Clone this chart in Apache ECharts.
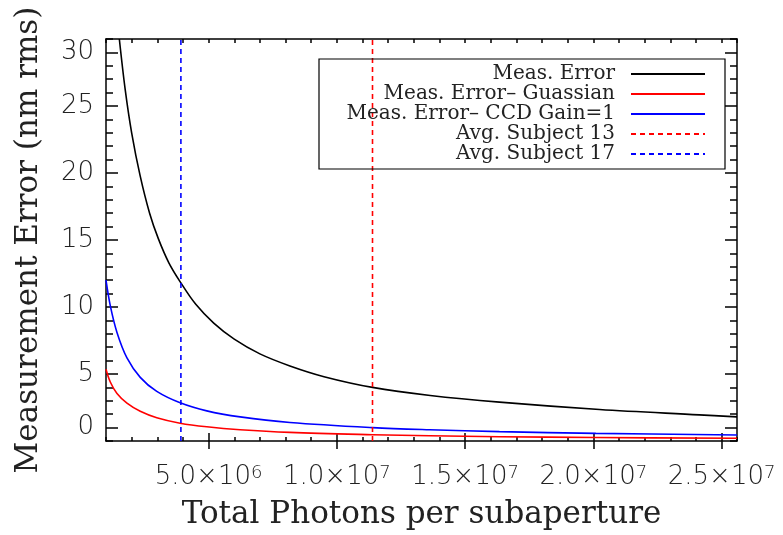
<!DOCTYPE html>
<html>
<head>
<meta charset="utf-8">
<script src="https://cdn.jsdelivr.net/npm/echarts@6/dist/echarts.min.js"></script>
<style>
  html, body { margin: 0; padding: 0; background: #fff; }
  #chart { width: 783px; height: 535px; }
</style>
</head>
<body>
<div id="chart"></div>
<script>
// Total measurement error vs. photon count
const photonsMeas = [1.52e6, 1.75e6, 2.0e6, 2.33e6, 2.7e6, 3.04e6, 3.45e6, 3.92e6, 4.5e6, 5.2e6,
                     6.0e6, 7.0e6, 8.17e6, 9.5e6, 1.139e7, 1.364e7, 1.634e7, 2.024e7, 2.413e7, 2.56e7];
const errMeas = [30, 26.2, 23.0, 19.8, 17.0, 15.1, 13.3, 11.8, 10.2, 8.8,
                 7.6, 6.5, 5.6, 4.8, 4.0, 3.4, 2.9, 2.35, 1.95, 1.8];

// Gaussian-only and unit-gain CCD errors share one photon grid
const photonsModel = [1.0e6, 1.167e6, 1.428e6, 1.817e6, 2.335e6, 2.98e6, 3.89e6, 4.93e6,
                      6.23e6, 8.17e6, 1.139e7, 1.362e7, 1.634e7, 2.01e7, 2.56e7];
const errGauss = [5.35, 4.4, 3.55, 2.83, 2.22, 1.74, 1.33, 1.06,
                  0.84, 0.64, 0.47, 0.39, 0.32, 0.26, 0.2];
const errGain1 = [12.0, 10.1, 8.1, 6.2, 4.75, 3.7, 2.85, 2.25,
                  1.8, 1.38, 1.0, 0.84, 0.7, 0.57, 0.45];

// Average photon counts of two subjects
const subject13Photons = 1.139e7;
const subject17Photons = 3.92e6;

const seriesNames = ['Meas. Error', 'Meas. Error\u2013 Guassian', 'Meas. Error\u2013 CCD Gain=1',
                     'Avg. Subject 13', 'Avg. Subject 17'];

// Axes
const xRange = [1e6, 2.56e7];
const yRange = [0, 30];
const xMajorTicks = [5e6, 1e7, 1.5e7, 2e7, 2.5e7];
const xTickMantissa = ['5.0', '1.0', '1.5', '2.0', '2.5'];
const xTickExponent = ['6', '7', '7', '7', '7'];
const yMajorTicks = [1, 5, 10, 15, 20, 25, 29];
const yTickLabels = ['0', '5', '10', '15', '20', '25', '30'];

const ink = '#000';
const frame = { color: ink, width: 1.5 };
const tickFont = 'DejaVu Sans';
const titleFont = 'DejaVu Serif';
const textInk = '#222';

function xBase(position) {
  return {
    type: 'value', min: xRange[0], max: xRange[1], position: position,
    splitLine: { show: false },
    axisLine: { show: true, onZero: false, lineStyle: frame },
    axisLabel: { show: false }
  };
}
function yBase(position) {
  return {
    type: 'value', min: yRange[0], max: yRange[1], position: position,
    splitLine: { show: false },
    axisLine: { show: true, onZero: false, lineStyle: frame },
    axisLabel: { show: false }
  };
}

const xAxes = [
  Object.assign(xBase('bottom'), { interval: 1e6, axisTick: { inside: true, length: 4, lineStyle: frame } }),
  Object.assign(xBase('bottom'), {
    axisLine: { show: false },
    axisTick: { inside: true, length: 8, customValues: xMajorTicks, lineStyle: frame },
    axisLabel: {
      show: true, customValues: xMajorTicks, margin: 23,
      formatter: function (v) {
        const i = xMajorTicks.indexOf(v);
        return '{m|' + xTickMantissa[i] + '\u00d710}{s|' + xTickExponent[i] + '}';
      },
      rich: {
        m: { fontFamily: tickFont, fontWeight: 200, fontSize: 26, color: textInk },
        s: { fontFamily: tickFont, fontWeight: 200, fontSize: 18, color: textInk, verticalAlign: 'top' }
      }
    },
    name: 'Total Photons per subaperture', nameLocation: 'middle', nameGap: 58,
    nameTextStyle: { fontFamily: titleFont, fontSize: 31, color: textInk }
  }),
  Object.assign(xBase('top'), { interval: 1e6, axisTick: { inside: true, length: 4, lineStyle: frame } }),
  Object.assign(xBase('top'), {
    axisLine: { show: false },
    axisTick: { inside: true, length: 8, customValues: xMajorTicks, lineStyle: frame }
  })
];

const yAxes = [
  Object.assign(yBase('left'), { interval: 1, axisTick: { inside: true, length: 7, lineStyle: frame } }),
  Object.assign(yBase('left'), {
    axisLine: { show: false },
    axisTick: { inside: true, length: 12, customValues: yMajorTicks, lineStyle: frame },
    axisLabel: {
      show: true, customValues: yMajorTicks, margin: 12,
      fontFamily: tickFont, fontWeight: 200, fontSize: 26, color: textInk,
      formatter: function (v) { return yTickLabels[yMajorTicks.indexOf(v)]; }
    },
    name: 'Measurement Error (nm rms)', nameLocation: 'middle', nameGap: 62,
    nameTextStyle: { fontFamily: titleFont, fontSize: 31, color: textInk }
  }),
  Object.assign(yBase('right'), { interval: 1, axisTick: { inside: true, length: 7, lineStyle: frame } }),
  Object.assign(yBase('right'), {
    axisLine: { show: false },
    axisTick: { inside: true, length: 12, customValues: yMajorTicks, lineStyle: frame }
  })
];

function curve(name, xs, ys, color) {
  return {
    name: name, type: 'line', smooth: 0.35,
    symbol: 'none', showSymbol: false,
    data: xs.map(function (x, i) { return [x, ys[i]]; }),
    lineStyle: { color: color, width: 1.6 },
    itemStyle: { color: color }
  };
}
function marker(name, x, color) {
  return {
    name: name, type: 'line', symbol: 'none', showSymbol: false,
    data: [[x, yRange[0]], [x, yRange[1]]],
    lineStyle: { color: color, width: 1.6, type: [5, 4] },
    itemStyle: { color: color }
  };
}

const chart = echarts.init(document.getElementById('chart'), null, { renderer: 'canvas' });
chart.setOption({
  animation: false,
  backgroundColor: '#fff',
  grid: { left: 106, top: 39, right: 46, bottom: 90, containLabel: false },
  xAxis: xAxes,
  yAxis: yAxes,
  legend: {
    orient: 'vertical', align: 'right', right: 58, top: 59,
    padding: [5, 19, 5, 7],
    borderColor: ink, borderWidth: 1.2,
    itemWidth: 74, itemHeight: 14, itemGap: 0,
    itemStyle: { opacity: 0 },
    textStyle: {
      fontFamily: titleFont, fontSize: 20, color: textInk, lineHeight: 20,
      width: 289, align: 'right', padding: [0, 11, 0, 0]
    },
    data: seriesNames
  },
  series: [
    curve(seriesNames[0], photonsMeas, errMeas, '#000'),
    curve(seriesNames[1], photonsModel, errGauss, '#ff0000'),
    curve(seriesNames[2], photonsModel, errGain1, '#0000ff'),
    marker(seriesNames[3], subject13Photons, '#ff0000'),
    marker(seriesNames[4], subject17Photons, '#0000ff')
  ]
});
</script>
</body>
</html>
